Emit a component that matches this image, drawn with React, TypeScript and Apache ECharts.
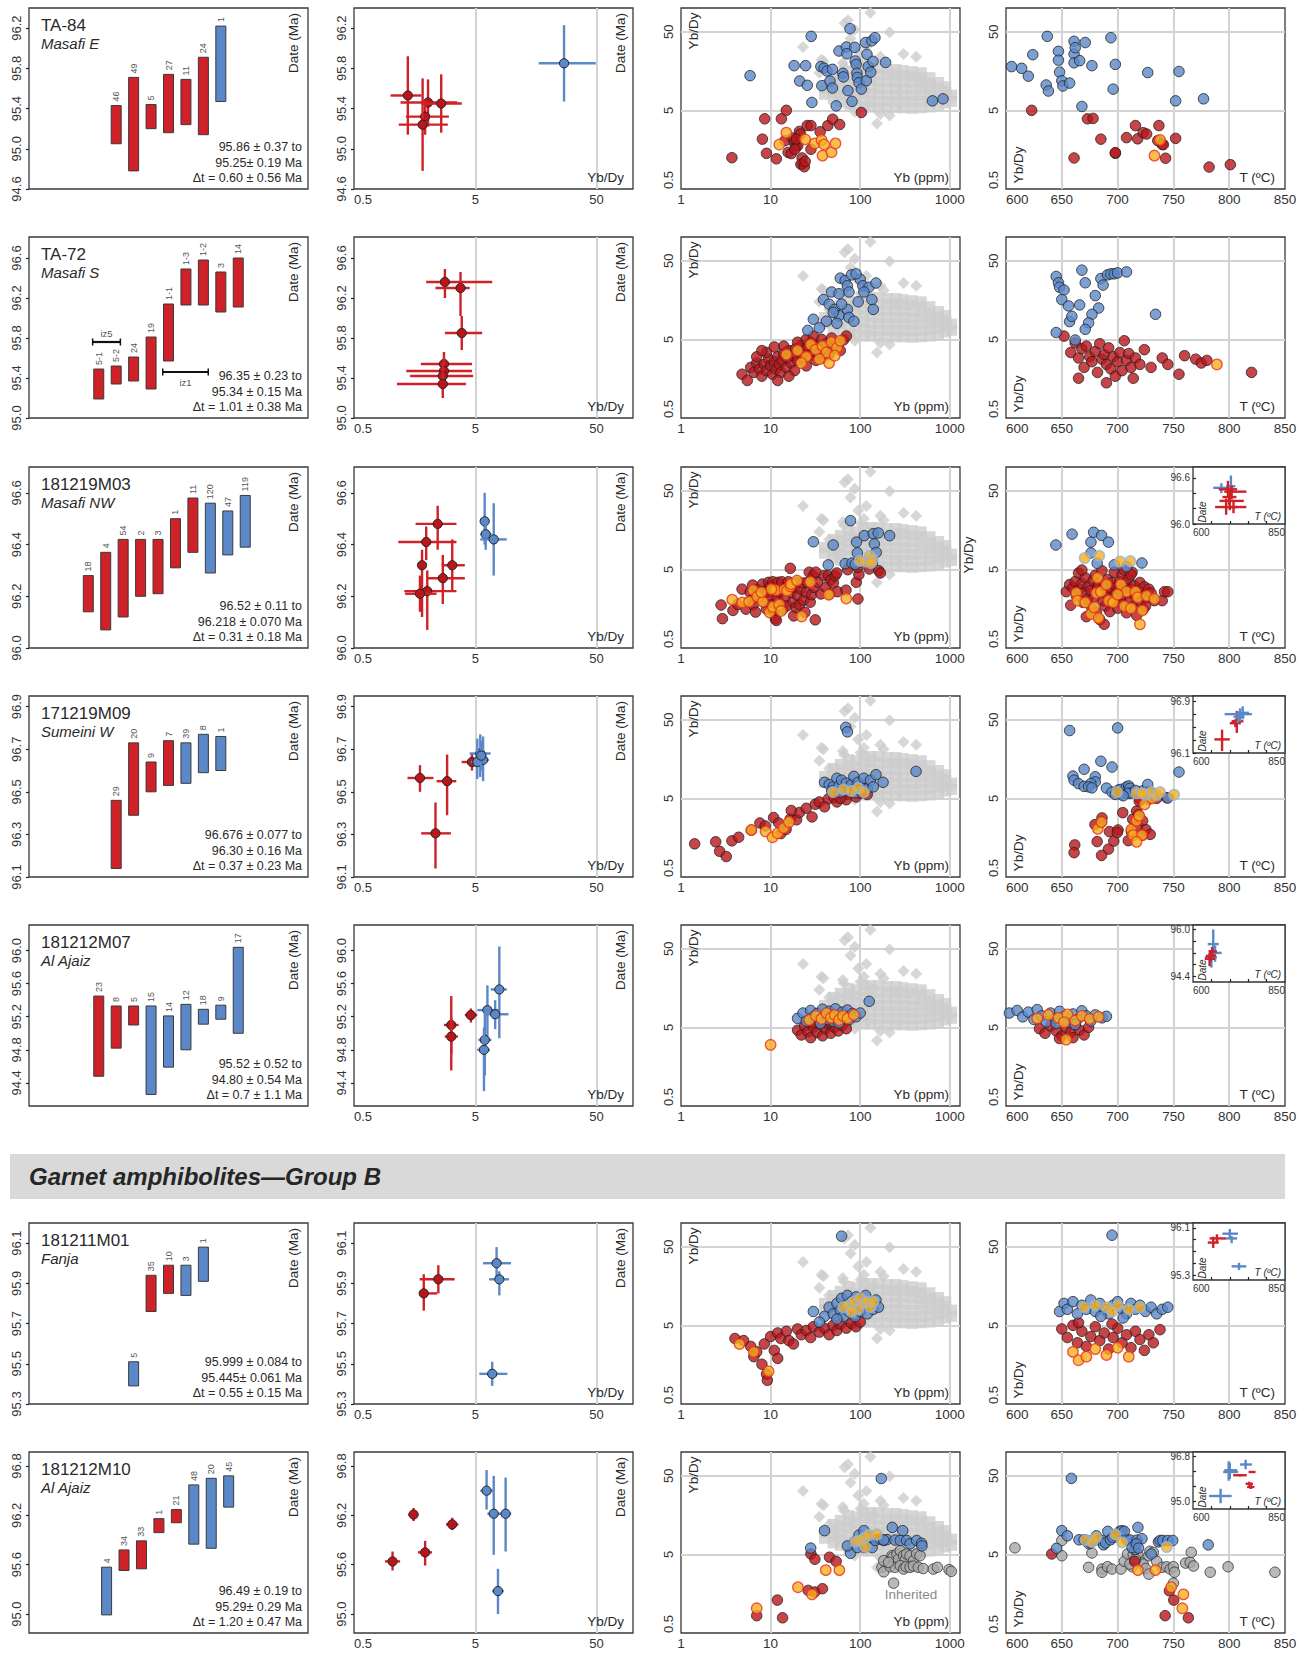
import React, { useEffect, useRef } from "react";
import * as echarts from "echarts";

const FONT = '"Liberation Sans", Arial, Helvetica, sans-serif';
const lg = (v: number) => Math.log10(v);

// ---------------- background reference field (col 3) ----------------
const bgSquares = [
  [40, 8], [40, 9.5],
  [50, 7], [50, 8.5], [50, 10], [50, 12],
  [60, 6.5], [60, 8], [60, 9.5], [60, 11.5], [60, 13.5],
  [75, 6], [75, 7.5], [75, 9], [75, 11], [75, 13], [75, 15.5],
  [90, 5.8], [90, 7], [90, 8.5], [90, 10.5], [90, 12.5], [90, 15],
  [110, 5.5], [110, 6.8], [110, 8.3], [110, 10], [110, 12], [110, 14.5], [110, 17],
  [130, 5.5], [130, 6.5], [130, 8], [130, 9.8], [130, 12], [130, 14.5], [130, 17],
  [160, 5.4], [160, 6.5], [160, 8], [160, 9.5], [160, 11.5], [160, 14], [160, 17],
  [200, 5.4], [200, 6.5], [200, 7.8], [200, 9.5], [200, 11.5], [200, 14], [200, 16.5],
  [250, 5.4], [250, 6.5], [250, 7.8], [250, 9.5], [250, 11.5], [250, 14], [250, 16.5],
  [300, 5.4], [300, 6.5], [300, 7.8], [300, 9.5], [300, 11.5], [300, 14], [300, 16],
  [380, 5.3], [380, 6.4], [380, 7.7], [380, 9.3], [380, 11.2], [380, 13.5], [380, 15.5],
  [480, 5.4], [480, 6.5], [480, 7.8], [480, 9.3], [480, 11], [480, 13], [480, 15],
  [600, 5.5], [600, 6.6], [600, 7.9], [600, 9.3], [600, 11], [600, 13],
  [750, 5.8], [750, 6.9], [750, 8.2], [750, 9.6], [750, 11.3],
  [900, 6.2], [900, 7.3], [900, 8.6], [900, 10],
  [1050, 6.5], [1050, 7.8],
];
const bgDiamonds = [
  [73, 70], [67, 64], [130, 87], [87, 53], [213, 49], [78, 41], [23, 32], [117, 32], [37, 22], [39, 21],
  [35, 15], [110, 22], [168, 24], [305, 26], [422, 24], [66, 18], [64, 20], [101, 19], [183, 21], [56, 7.5],
  [78, 5.6], [87, 4.8], [168, 4.5], [154, 3.4], [213, 4.3], [45, 12], [50, 9], [95, 28], [140, 16], [250, 14],
];

// ---------------- Row 1: TA-84 ----------------
const ta84Bars = [[95.05, 95.43, "46", "r"], [94.78, 95.71, "49", "r"], [95.2, 95.44, "5", "r"], [95.16, 95.74, "27", "r"], [95.24, 95.69, "11", "r"], [95.14, 95.91, "24", "r"], [95.47, 96.22, "1", "b"]];
const ta84Cross = [[1.39, 1.0, 1.8, 95.53, 95.14, 95.92, "r"], [2.04, 1.21, 3.55, 95.46, 95.22, 95.69, "r"], [2.62, 1.8, 3.87, 95.45, 95.16, 95.74, "r"], [1.93, 1.34, 3.03, 95.32, 95.14, 95.48, "r"], [1.84, 1.17, 2.97, 95.24, 94.78, 95.7, "r"], [27.0, 16.7, 49.3, 95.85, 95.47, 96.23, "b"]];
const ta84YbBlue = [[5.9, 13.8], [28.4, 43.6], [18.3, 18.5], [24.6, 18.5], [21.1, 11.8], [25.7, 10.4], [28.9, 6.3], [36.4, 18], [39.6, 17.2], [42.7, 15.8], [37.3, 10.3], [46, 11.8], [49, 9.6], [49, 16.6], [54, 5.7], [58, 28.4], [64, 14.8], [65, 13.3], [70, 31.9], [71, 26.2], [73, 8.9], [77, 54.6], [81, 6.5], [87, 31.6], [88, 21.2], [90, 19.2], [92, 14.9], [93, 13.1], [97, 11.2], [103, 9.3], [115, 36.4], [117, 11.9], [119, 25.8], [123, 18], [131, 15.3], [139, 21], [135, 38.3], [146, 41.9], [192, 20.3], [640, 6.6], [840, 7.0]];
const ta84YbRed = [[3.7, 1.25], [8.1, 2.15], [8.6, 3.9], [9.0, 1.42], [11.6, 1.21], [13.2, 3.9], [15, 5.0], [14.5, 2.06], [15.7, 1.46], [17, 1.41], [17.5, 2.22], [18.4, 1.95], [19.2, 1.78], [20.1, 1.78], [21, 2.7], [21.5, 2.5], [22.5, 1.24], [22.8, 1.04], [21.8, 1.03], [23.8, 0.96], [24.3, 1.12], [25.7, 3.2], [28.2, 3.2], [28.2, 1.6], [35.7, 2.67], [43.5, 3.2], [49.3, 3.86], [59, 3.3], [103, 4.7], [19.4, 2.15], [18.7, 1.6]];
const ta84YbOrange = [[12.5, 1.84], [15, 2.6], [24.3, 2.14], [31.1, 1.9], [37, 2.1], [39.6, 1.84], [38, 1.33], [47.8, 1.47], [53, 1.9]];
const ta84TBlue = [[605, 18], [614, 17.1], [620, 13.6], [624, 25.5], [636, 10.5], [637, 43.6], [638, 8.8], [647, 28.1], [647, 21.7], [648, 15.3], [650, 11.9], [651, 10.2], [657, 11.1], [661, 37.7], [661, 26], [662, 31.3], [661, 20.1], [666, 21.4], [668, 5.6], [671, 36.4], [677, 18.5], [694, 41.9], [696, 9.3], [698, 19.2], [727, 15.1], [755, 15.6], [752, 6.6], [777, 7.0]];
const ta84TRed = [[623, 5.0], [673, 3.9], [678, 3.95], [685, 2.15], [661, 1.24], [698, 1.42], [698, 1.45], [708, 2.25], [716, 3.2], [718, 2.17], [723, 2.6], [726, 2.5], [737, 3.2], [736, 2.06], [740, 1.84], [741, 1.83], [743, 1.23], [752, 2.2], [782, 0.95], [801, 1.02]];
const ta84TOrange = [[738, 2.1], [733, 1.33]];

// ---------------- Row 2: TA-72 ----------------
const ta72Bars = [[95.19, 95.49, "5-1", "r"], [95.34, 95.52, "5-2", "r"], [95.37, 95.61, "24", "r"], [95.29, 95.81, "19", "r"], [95.57, 96.14, "1-1", "r"], [96.13, 96.49, "1-3", "r"], [96.13, 96.58, "1-2", "r"], [96.06, 96.46, "3", "r"], [96.11, 96.6, "14", "r"]];
const ta72Brackets = [[3.65, 5.24, 95.76, "iz5", "above"], [7.67, 10.28, 95.46, "iz1", "below"]];
const ta72Cross = [[2.81, 1.97, 6.9, 96.36, 96.2, 96.49, "r"], [3.78, 2.35, 4.5, 96.3, 96.02, 96.46, "r"], [3.87, 2.81, 5.7, 95.85, 95.68, 96.02, "r"], [2.76, 1.78, 4.7, 95.54, 95.42, 95.66, "r"], [2.76, 1.35, 4.7, 95.47, 95.33, 95.6, "r"], [2.7, 1.45, 4.8, 95.42, 95.28, 95.55, "r"], [2.7, 1.13, 4.2, 95.34, 95.2, 95.47, "r"]];
const ta72YbBlue = [[60, 30], [68, 28], [80, 33], [100, 29], [72, 24], [107, 24], [125, 23], [48, 20], [58, 19], [75, 20], [39, 16], [45, 14], [52, 12], [58, 10], [72, 12], [30, 9], [42, 8.5], [55, 8], [75, 9.5], [95, 15], [150, 26], [135, 16], [35, 7], [85, 8.5], [62, 14], [50, 11], [26, 6.5], [110, 20], [90, 34], [140, 12]];
const ta72YbRed = [[4.8, 1.8], [5.5, 1.5], [6, 2.2], [6.5, 1.9], [7, 2.5], [7.5, 2.1], [8, 1.7], [8.5, 2.4], [9, 2.0], [9.5, 2.8], [10, 2.3], [10.5, 1.8], [11, 2.6], [11.5, 2.1], [12, 3.0], [12.5, 2.4], [13, 1.9], [13.5, 2.7], [14, 3.3], [15, 2.2], [15.5, 2.9], [16, 3.6], [17, 2.5], [18, 3.1], [18.5, 2.0], [19, 3.8], [20, 2.7], [21, 3.4], [22, 4.2], [23, 2.9], [24, 3.6], [25, 2.3], [26, 4.0], [27, 3.1], [28, 4.6], [30, 3.5], [32, 2.7], [33, 4.2], [35, 3.3], [37, 5.0], [38, 2.9], [40, 3.8], [42, 4.4], [45, 3.2], [48, 5.2], [50, 3.9], [55, 4.5], [60, 3.6], [65, 4.9], [70, 5.5], [20, 4.6], [14, 4.1], [9, 3.4], [7, 3.0], [12, 1.5], [16, 1.7], [25, 5.0], [30, 5.5], [11, 4.0], [8, 3.6]];
const ta72YbOrange = [[15, 3.2], [20, 3.6], [25, 3.0], [28, 4.3], [32, 3.7], [38, 4.1], [42, 3.4], [48, 4.6], [55, 3.9], [60, 4.8], [22, 2.5], [35, 2.8], [45, 2.5], [52, 3.1]];
const ta72TBlue = [[645, 31.5], [647, 26.2], [648, 23], [652, 21.2], [650, 16], [656, 13.3], [645, 6.1], [668, 37.9], [671, 26.2], [680, 18], [685, 29.6], [687, 24.5], [691, 33], [694, 34], [697, 34], [683, 12.5], [677, 10.4], [674, 8.1], [671, 6.7], [657, 8.4], [659, 9.8], [666, 13.7], [662, 4.9], [734, 10.4], [700, 35], [708, 36]];
const ta72TRed = [[652, 5.5], [658, 3.4], [662, 4.5], [665, 2.9], [668, 3.8], [670, 2.2], [672, 4.1], [675, 3.0], [677, 2.6], [680, 3.5], [682, 1.9], [684, 4.4], [686, 2.8], [688, 3.2], [690, 2.4], [692, 3.9], [694, 2.1], [696, 3.0], [698, 1.7], [700, 2.6], [702, 3.4], [704, 2.0], [706, 4.8], [708, 2.7], [710, 3.3], [712, 2.2], [714, 1.6], [716, 2.9], [720, 2.4], [724, 3.7], [730, 2.2], [740, 2.9], [745, 2.4], [755, 1.8], [760, 3.1], [770, 2.8], [775, 2.5], [780, 2.7], [820, 1.9], [665, 1.6], [690, 1.4]];
const ta72TOrange = [[789, 2.4]];

// ---------------- Row 3: 181219M03 ----------------
const m03Bars = [[96.14, 96.28, "18", "r"], [96.07, 96.37, "4", "r"], [96.12, 96.42, "54", "r"], [96.2, 96.42, "2", "r"], [96.21, 96.42, "3", "r"], [96.31, 96.5, "1", "r"], [96.37, 96.58, "11", "r"], [96.29, 96.56, "120", "b"], [96.36, 96.53, "47", "b"], [96.39, 96.59, "119", "b"]];
const m03Cross = [[2.45, 1.61, 3.5, 96.48, 96.38, 96.55, "r"], [1.97, 1.16, 3.5, 96.41, 96.34, 96.47, "r"], [1.82, 1.7, 1.95, 96.32, 96.12, 96.38, "r"], [2.01, 1.3, 3.5, 96.22, 96.07, 96.3, "r"], [1.75, 1.32, 2.4, 96.21, 96.14, 96.28, "r"], [2.7, 2.04, 4.1, 96.27, 96.17, 96.36, "r"], [3.23, 2.64, 4.1, 96.32, 96.22, 96.42, "r"], [5.98, 5.6, 6.4, 96.49, 96.4, 96.6, "b"], [6.1, 5.5, 6.8, 96.44, 96.38, 96.5, "b"], [7.1, 5.5, 9.1, 96.42, 96.28, 96.56, "b"]];
const m03YbBlue = [[30, 11.2], [50, 10.2], [78, 20.8], [111, 13.4], [91, 11.1], [140, 14.2], [159, 14.5], [213, 13.4], [144, 10.5], [151, 8.2], [93, 8.1], [44, 5.7], [68, 5.9], [81, 6.0], [101, 6.25], [127, 6.1], [137, 6.0], [88, 5.8]];
const m03YbBlueOr = [[99, 6.4], [115, 6.3], [128, 7.4], [138, 6.7], [132, 6.0]];
const m03YbRed = [[2.8, 1.76], [2.9, 1.18], [3.8, 1.5], [4.3, 1.79], [4.8, 2.8], [5.3, 1.56], [5.9, 2.55], [6.1, 2.03], [6.3, 3.15], [6.4, 1.77], [6.8, 1.43], [7.2, 2.77], [7.6, 2.29], [8.1, 3.25], [8.3, 2.6], [8.4, 1.91], [9.0, 1.56], [9.3, 2.55], [9.5, 3.42], [10, 3.04], [10.2, 2.32], [10.3, 1.77], [10.6, 3.48], [10.9, 1.42], [11.1, 2.8], [11.3, 1.17], [11.6, 1.12], [11.9, 2.13], [12.1, 3.42], [12.6, 2.55], [12.9, 1.81], [13.3, 3.48], [13.7, 1.56], [14.3, 2.13], [14.9, 2.95], [15.3, 1.72], [15.8, 3.48], [16.6, 5.15], [16.9, 2.55], [17.7, 1.91], [18.1, 1.28], [18.4, 2.95], [19.2, 1.64], [19.7, 3.42], [20.1, 2.32], [21, 1.77], [21.8, 2.8], [22.8, 3.35], [23.4, 2.03], [24.2, 1.42], [25, 2.55], [25.9, 3.42], [27, 4.6], [27.7, 1.91], [28.7, 2.38], [29.9, 4.15], [30.7, 2.95], [31.5, 1.14], [32, 4.6], [33.4, 3.42], [36.4, 2.43], [39.6, 4.15], [41.3, 2.95], [43.9, 4.15], [45.4, 2.43], [47, 3.66], [50.2, 3.35], [52.5, 4.15], [54.8, 4.5], [55.6, 2.6], [69.4, 2.72], [72.5, 4.95], [90.5, 3.42], [94.4, 2.1], [96.8, 4.28], [126, 5.05], [161, 4.8], [168, 4.5], [94, 5.3]];
const m03YbOrange = [[3.73, 2.06], [4.82, 1.89], [5.75, 1.94], [6.4, 2.72], [7.1, 2.25], [8.2, 1.94], [9.75, 1.42], [10.6, 1.66], [11.5, 2.72], [12.5, 1.79], [13.1, 1.48], [14.3, 2.77], [15.3, 2.68], [16.6, 3.04], [16.9, 3.25], [19.7, 3.6], [27.7, 3.45], [44.6, 2.38], [70, 2.13], [22.2, 1.26], [10.2, 2.8], [7.9, 2.55]];
const m03TBlue = [[644.7, 10.2], [659.2, 14.0], [676.1, 11.1], [678.5, 14.8], [685.6, 13.5], [691.8, 11.1], [676.1, 8.07], [681.7, 5.96], [721.8, 6.02], [708, 5.4], [697, 5.7]];
const m03TBlueOr = [[670.5, 6.97], [683.5, 7.45], [702.2, 6.3], [711.4, 6.35]];
const m03TRed = [[654, 2.6], [657, 3.2], [658, 1.75], [660, 2.9], [662, 3.5], [663, 2.3], [665, 4.5], [666, 2.8], [668, 3.3], [669, 1.9], [670, 2.5], [671, 3.9], [672, 1.25], [673, 2.1], [674, 3.0], [676, 2.7], [677, 1.6], [678, 3.6], [679, 2.2], [680, 4.2], [681, 1.4], [682, 2.9], [683, 3.3], [684, 1.15], [685, 2.5], [686, 4.8], [687, 2.0], [688, 3.1], [689, 1.7], [690, 2.6], [691, 3.7], [692, 2.2], [693, 1.45], [694, 2.9], [695, 3.4], [696, 1.9], [697, 4.6], [698, 2.4], [699, 3.0], [700, 1.6], [701, 2.7], [702, 3.5], [703, 2.1], [704, 4.3], [705, 1.8], [706, 2.9], [707, 3.3], [708, 1.4], [709, 2.5], [710, 3.8], [711, 2.0], [712, 2.8], [713, 4.6], [714, 1.7], [715, 3.1], [716, 2.3], [717, 1.3], [718, 2.7], [720, 3.4], [721, 1.9], [722, 2.5], [723, 1.55], [724, 3.0], [726, 2.2], [728, 2.8], [730, 2.5], [733, 2.0], [740, 2.0], [742, 2.6], [745, 2.6], [668, 4.9], [706, 4.9], [712, 4.3], [688, 1.0], [725, 1.7]];
const m03TOrange = [[663, 2.5], [664, 2.0], [671, 1.9], [676, 1.35], [679, 1.65], [681, 2.5], [682, 3.9], [683, 1.2], [685, 2.6], [692, 2.0], [696, 1.9], [703, 3.2], [706, 1.7], [708, 2.6], [712, 1.6], [716, 2.6], [718, 2.2], [720, 1.0], [722, 1.5], [726, 2.3], [733, 2.1], [690, 3.2], [700, 2.4]];
const m03Inset = [[677, 655, 700, 96.47, 96.4, 96.53, "b"], [703, 690, 715, 96.49, 96.35, 96.63, "b"], [695, 670, 720, 96.45, 96.35, 96.56, "r"], [705, 685, 745, 96.42, 96.32, 96.5, "r"], [700, 672, 738, 96.3, 96.18, 96.4, "r"], [690, 660, 720, 96.22, 96.12, 96.33, "r"], [710, 690, 745, 96.22, 96.14, 96.3, "r"], [698, 680, 718, 96.35, 96.25, 96.45, "r"]];

// ---------------- Row 4: 171219M09 ----------------
const m09Bars = [[96.14, 96.46, "29", "r"], [96.39, 96.73, "20", "r"], [96.5, 96.64, "9", "r"], [96.53, 96.74, "7", "r"], [96.54, 96.73, "39", "b"], [96.59, 96.77, "8", "b"], [96.6, 96.76, "1", "b"]];
const m09Cross = [[1.75, 1.38, 2.26, 96.565, 96.5, 96.625, "r"], [2.93, 2.4, 3.49, 96.55, 96.39, 96.675, "r"], [2.35, 1.79, 3.15, 96.305, 96.14, 96.45, "r"], [4.7, 3.86, 5.5, 96.64, 96.6, 96.68, "r"], [5.5, 4.5, 6.7, 96.68, 96.57, 96.77, "b"], [5.8, 5.0, 6.5, 96.65, 96.55, 96.76, "b"], [5.2, 4.6, 6.0, 96.64, 96.56, 96.75, "b"], [5.6, 5.0, 6.2, 96.67, 96.6, 96.74, "b"]];
const m09YbBlue = [[69, 40], [72, 35], [40, 8], [45, 7.5], [50, 7], [55, 9], [58, 7.2], [62, 8.5], [65, 6.5], [70, 7.8], [75, 6.2], [80, 7.5], [85, 9.5], [90, 6.8], [95, 8], [105, 7], [110, 9], [120, 6.6], [130, 8.5], [150, 10], [180, 8], [48, 6.2], [60, 6], [88, 5.9], [100, 6.3], [140, 7], [420, 11]];
const m09YbBlueOr = [[50, 6.0], [65, 6.5], [80, 6.2], [95, 6.8], [110, 6.0]];
const m09YbRed = [[1.42, 1.32], [2.44, 1.4], [2.7, 1.06], [3.2, 0.91], [3.7, 1.44], [4.4, 1.6], [6.1, 1.97], [7.6, 2.43], [8.7, 2.23], [10.8, 2.85], [12.3, 2.43], [13, 1.78], [14.9, 2.02], [16.6, 2.74], [19.5, 2.67], [21, 3.3], [25, 3.74], [29, 2.9], [31.6, 4.2], [35, 4.5], [44, 4.9], [51, 5.1], [62, 5.8], [73, 5.6], [86, 6.1], [107, 6.7], [40, 3.9], [55, 4.5], [70, 4.8], [90, 5.2], [120, 5.6], [60, 5.0], [100, 5.8], [17, 3.5]];
const m09YbOrange = [[6.1, 1.98], [8.8, 1.9], [10.5, 1.6], [12, 1.8], [14, 2.1], [16, 2.5]];
const m09TBlue = [[657, 36.4], [700, 39.3], [685, 14.8], [695, 12.5], [670, 11.7], [660, 9.6], [661, 8.5], [680, 9.4], [680, 8.1], [665, 7.7], [670, 7.1], [676, 7.7], [674, 7.0], [677, 6.8], [690, 6.75], [701, 6.4], [703, 6.5], [708, 7.0], [710, 7.2], [711, 6.7], [712, 5.8], [709, 5.8], [722, 6.2], [727, 7.5], [728, 6.0], [731, 5.9], [745, 5.05], [755, 10.8], [695, 6.0], [698, 5.6], [703, 5.65], [716, 6.3], [705, 5.4]];
const m09TBlueOr = [[699.6, 6.0], [725, 5.56], [730, 6.0], [735, 5.5], [738, 6.0], [750.6, 5.56], [717, 5.8], [722, 5.8]];
const m09TRed = [[661.6, 1.28], [661, 1.02], [679.7, 2.32], [681.7, 1.41], [686, 2.82], [685.6, 2.5], [692.7, 1.89], [691.8, 1.13], [685.6, 0.94], [696.6, 1.43], [700.4, 1.98], [699.8, 1.84], [704.6, 3.29], [709.6, 1.45], [712.3, 1.89], [713.5, 2.71], [717, 3.45], [718.8, 3.1], [718.2, 2.23], [722.4, 2.6], [722.4, 1.7], [725.4, 2.0], [729.2, 1.74], [720.3, 4.85], [727.7, 4.85], [735, 5.0], [744, 5.1], [719.4, 4.6]];
const m09TOrange = [[682.3, 2.05], [685.6, 2.5], [712.3, 2.0], [713.8, 1.7], [717, 2.6], [719.4, 3.0], [721.8, 1.7], [717, 1.4], [724.2, 4.2], [730.7, 5.0]];
const m09Inset = [[679, 658, 700, 96.31, 96.13, 96.46, "r"], [719, 705, 737, 96.59, 96.41, 96.75, "r"], [715, 700, 730, 96.56, 96.5, 96.62, "r"], [728, 686, 760, 96.7, 96.59, 96.79, "b"], [735, 720, 752, 96.72, 96.62, 96.82, "b"], [722, 710, 740, 96.66, 96.56, 96.74, "b"]];

// ---------------- Row 5: 181212M07 ----------------
const m07Bars = [[94.48, 95.45, "23", "r"], [94.82, 95.33, "8", "r"], [95.1, 95.33, "5", "r"], [94.26, 95.33, "15", "b"], [94.59, 95.21, "14", "b"], [94.8, 95.35, "12", "b"], [95.11, 95.29, "18", "b"], [95.17, 95.34, "9", "b"], [95.0, 96.04, "17", "b"]];
const m07Cross = [[3.17, 2.76, 3.64, 95.1, 94.75, 95.45, "r"], [3.17, 2.8, 3.6, 94.96, 94.55, 95.19, "r"], [4.6, 4.1, 5.2, 95.22, 95.13, 95.3, "r"], [7.9, 6.7, 9.1, 95.53, 94.94, 96.05, "b"], [6.3, 5.2, 8.0, 95.28, 94.94, 95.58, "b"], [7.3, 5.9, 9.4, 95.23, 95.05, 95.4, "b"], [6.0, 5.3, 6.8, 94.92, 94.49, 95.26, "b"], [5.9, 5.2, 6.6, 94.8, 94.3, 95.07, "b"]];
const m07YbBlue = [[20, 6.5], [23, 7.6], [25, 6.0], [28, 8.2], [30, 6.8], [33, 7.5], [35, 6.2], [38, 8.5], [40, 7.0], [43, 6.3], [45, 8.0], [48, 7.2], [50, 6.0], [53, 8.6], [56, 7.0], [60, 6.4], [63, 7.8], [67, 6.8], [72, 8.3], [76, 6.3], [82, 7.5], [90, 6.8], [100, 7.6], [126, 10.7], [36, 5.6], [58, 5.7]];
const m07YbRed = [[20, 4.6], [22, 4.0], [24, 5.2], [26, 4.4], [28, 3.7], [30, 5.0], [33, 4.3], [36, 5.5], [38, 3.9], [41, 4.8], [44, 5.4], [47, 4.2], [52, 5.0], [57, 4.5], [63, 5.3], [70, 4.8], [30, 5.8], [45, 5.8]];
const m07YbOrange = [[10, 3.0], [27, 6.2], [32, 7.0], [37, 6.4], [42, 7.6], [47, 6.6], [52, 7.2], [58, 6.2], [64, 7.0], [72, 6.5], [85, 7.2]];
const m07TBlue = [[603, 7.6], [610, 8.2], [615, 6.8], [620, 7.8], [625, 6.3], [628, 8.4], [632, 7.0], [636, 5.9], [640, 7.6], [644, 6.5], [648, 8.0], [652, 6.9], [656, 5.8], [660, 7.4], [664, 6.3], [668, 8.1], [672, 7.0], [676, 6.0], [680, 7.2], [686, 6.6], [690, 6.9], [645, 5.6], [662, 5.4]];
const m07TRed = [[630, 4.8], [635, 4.2], [640, 5.2], [645, 4.5], [650, 3.9], [654, 4.9], [658, 4.3], [662, 5.4], [666, 4.6], [670, 4.0], [674, 5.0], [648, 3.6], [660, 3.7]];
const m07TOrange = [[628, 6.5], [638, 7.2], [647, 6.6], [655, 7.3], [662, 6.1], [668, 7.0], [675, 6.4], [683, 6.8], [652, 5.8], [654, 3.5]];
const m07Inset = [[655, 640, 670, 95.5, 95.0, 96.0, "b"], [660, 645, 678, 95.2, 94.9, 95.45, "b"], [650, 632, 665, 95.05, 94.7, 95.3, "b"], [648, 635, 662, 95.1, 94.9, 95.3, "r"], [652, 642, 665, 95.25, 95.1, 95.4, "r"], [645, 632, 660, 95.0, 94.75, 95.2, "r"]];

// ---------------- Row 6: 181211M01 ----------------
const m01Bars = [[95.39, 95.51, "5", "b"], [95.76, 95.94, "35", "r"], [95.85, 95.99, "10", "r"], [95.84, 95.99, "3", "b"], [95.91, 96.08, "1", "b"]];
const m01Cross = [[1.88, 1.74, 2.43, 95.85, 95.764, 95.945, "r"], [2.48, 1.74, 3.38, 95.92, 95.85, 95.99, "r"], [7.5, 5.8, 9.85, 96.0, 95.92, 96.08, "b"], [7.9, 6.5, 9.5, 95.92, 95.84, 95.96, "b"], [6.9, 5.4, 9.2, 95.45, 95.39, 95.51, "b"]];
const m01YbBlue = [[30, 7.5], [40, 6.5], [45, 8.5], [50, 7], [55, 9.5], [60, 7.8], [62, 11], [65, 6.5], [70, 9], [72, 12], [75, 7.5], [80, 10], [85, 8.2], [88, 6.5], [90, 11.5], [95, 9], [100, 7.5], [105, 10.5], [110, 8.5], [115, 12], [120, 7], [130, 9.5], [140, 8], [150, 10.5], [160, 8.5], [62, 68], [55, 6], [35, 5.5]];
const m01YbBlueOr = [[65, 8.5], [75, 9], [85, 10], [95, 8], [100, 11], [110, 9.5], [120, 10], [130, 8.5], [80, 7.5], [140, 10]];
const m01YbRed = [[4, 3.4], [5, 3.2], [6, 2.7], [7, 2.3], [8, 1.6], [9, 1.2], [8.5, 2.9], [10, 3.6], [11, 2.4], [12, 4.0], [13, 3.4], [15, 4.2], [16, 3.2], [18, 2.9], [20, 4.5], [22, 3.8], [25, 4.3], [28, 3.5], [30, 4.8], [35, 4.1], [40, 4.6], [45, 3.8], [50, 5.0], [55, 4.3], [60, 5.2], [70, 4.6], [80, 5.3], [90, 4.8], [100, 5.5], [12, 1.9], [6.5, 2.0], [9.2, 1.0]];
const m01YbOrange = [[4.5, 2.9], [6.5, 2.3], [9.5, 1.3]];
const m01TBlue = [[648, 7.5], [652, 9.5], [655, 8], [660, 10], [664, 7], [668, 9], [672, 8], [676, 10.5], [680, 7.5], [684, 9.5], [688, 8], [692, 7], [696, 9], [700, 10], [704, 8], [708, 7], [712, 9.5], [716, 8], [720, 9], [725, 7.5], [730, 8.5], [735, 7], [740, 8], [745, 8.5], [695, 70], [705, 6.2], [685, 6.5]];
const m01TBlueOr = [[670, 8.5], [680, 9], [690, 8.5], [700, 9], [710, 8], [720, 8.5], [695, 7.5]];
const m01TRed = [[650, 4.5], [655, 3.5], [660, 5.0], [664, 3.0], [668, 4.2], [672, 2.7], [676, 3.6], [680, 4.8], [684, 3.2], [688, 4.0], [692, 2.5], [696, 3.5], [700, 4.6], [704, 3.0], [708, 3.8], [712, 2.6], [716, 4.2], [720, 3.3], [724, 2.4], [728, 3.8], [732, 3.0], [738, 4.4], [665, 5.4], [695, 5.2]];
const m01TOrange = [[660, 2.3], [665, 1.8], [672, 2.0], [680, 2.5], [690, 2.1], [700, 2.6], [710, 2.0]];
const m01Inset = [[655, 640, 670, 95.85, 95.76, 95.95, "r"], [665, 645, 690, 95.92, 95.85, 95.99, "r"], [700, 680, 722, 96.0, 95.92, 96.08, "b"], [705, 690, 720, 95.92, 95.84, 95.96, "b"], [725, 705, 745, 95.45, 95.39, 95.51, "b"]];

// ---------------- Row 7: 181212M10 ----------------
const m10Bars = [[94.99, 95.57, "4", "b"], [95.53, 95.78, "34", "r"], [95.55, 95.89, "33", "r"], [95.99, 96.16, "1", "r"], [96.11, 96.27, "21", "r"], [95.85, 96.57, "48", "b"], [95.8, 96.65, "20", "b"], [96.3, 96.68, "45", "b"]];
const m10Cross = [[1.04, 0.9, 1.2, 95.64, 95.53, 95.76, "r"], [1.55, 1.4, 1.7, 96.21, 96.13, 96.29, "r"], [1.93, 1.68, 2.2, 95.75, 95.59, 95.89, "r"], [3.23, 2.87, 3.63, 96.09, 96.02, 96.17, "r"], [6.2, 5.5, 7.0, 96.5, 96.27, 96.75, "b"], [7.1, 6.3, 8.0, 96.22, 95.72, 96.68, "b"], [8.9, 8.0, 9.9, 96.22, 95.76, 96.66, "b"], [7.7, 6.9, 8.6, 95.28, 95.0, 95.55, "b"]];
const m10YbBlue = [[172, 46], [40, 10], [28, 6.0], [228, 11], [298, 10], [78, 5.15], [72, 6.4], [87, 7.25], [97, 8.8], [103, 7.8], [110, 10], [119, 7.5], [130, 8.2], [136, 6.1], [148, 7.5], [168, 7.8], [183, 7.5], [199, 7.7], [245, 7.6], [280, 7.5], [330, 7.5], [360, 6.8], [427, 7.5], [485, 6.9], [489, 6.4], [110, 6.1], [93, 6.1], [183, 7.6]];
const m10YbBlueOr = [[88, 7.25], [98, 7.5], [112, 8.2], [125, 8.8], [153, 8.9], [114, 6.2]];
const m10YbRed = [[7.0, 0.83], [13.6, 0.78], [11.9, 1.31], [26.3, 1.74], [31.2, 1.66], [37.9, 1.83], [28.2, 5.05], [31.2, 4.33], [45.4, 4.6], [53.9, 4.07]];
const m10YbOrange = [[7.0, 1.03], [20.2, 1.91], [29, 1.55], [41.3, 3.15], [58.5, 3.15]];
const m10YbInh = [[226, 4.8], [232, 4.6], [257, 5.05], [267, 4.33], [280, 5.56], [305, 4.8], [318, 4.2], [330, 5.05], [360, 4.8], [393, 4.15], [427, 5.05], [465, 4.8], [175, 3.42], [183, 3.0], [217, 3.48], [245, 3.42], [280, 3.58], [305, 3.25], [325, 3.48], [360, 3.42], [393, 3.55], [445, 3.42], [505, 3.3], [654, 3.25], [727, 3.42], [980, 3.2], [1040, 3.04], [236, 2.15], [183, 4.15], [207, 3.95]];
const m10TBlue = [[658.6, 46.2], [650, 10], [655, 8.6], [645.3, 5.96], [665.4, 7.65], [669.9, 7.65], [672.8, 7.5], [674.3, 6.8], [675.8, 7.0], [680.9, 8.6], [683.8, 7.6], [686.2, 7.5], [687.4, 6.6], [689.2, 7.0], [691.2, 9.8], [693.6, 7.65], [695.7, 8.2], [698.1, 8.6], [701.9, 9.8], [704, 10], [706.1, 9.8], [708.5, 7.6], [711.4, 7.6], [717.4, 7.6], [718.2, 11], [715.3, 5.75], [712.9, 6.1], [721.8, 7.9], [730.1, 5.05], [736.6, 7.2], [738.1, 7.5], [740.5, 7.5], [745, 7.5], [749.4, 7.5], [781.2, 6.6], [716.8, 6.8], [718.8, 6.0]];
const m10TBlueOr = [[671.4, 7.6], [677.3, 7.2], [680.9, 8.2], [698.1, 8.9], [704, 7.1], [744, 6.2]];
const m10TRed = [[641, 5.05], [715.3, 4.07], [746.4, 1.72], [750.3, 1.31], [742.6, 0.83], [763.4, 0.78]];
const m10TOrange = [[718.2, 3.15], [734, 3.15], [748, 1.91], [759, 1.55], [758, 1.03]];
const m10TInh = [[608, 6.05], [650, 7.5], [650, 4.8], [674, 3.42], [677, 5.2], [686, 3.25], [686, 2.96], [691, 3.48], [695, 3.25], [703, 3.25], [706, 4.07], [709, 5.05], [713, 3.48], [714, 4.95], [718, 5.1], [721, 3.95], [723, 3.76], [725, 3.3], [728, 2.8], [728, 4.8], [729, 5.46], [732, 5.3], [735, 4.07], [740, 3.42], [744, 3.48], [747, 3.25], [750, 3.48], [751, 2.96], [750, 2.15], [761, 3.87], [765, 3.95], [768, 3.55], [766, 5.3], [783, 2.96], [799, 3.48], [841, 2.96], [711, 3.76], [716, 4.33]];
const m10Inset = [[675, 644, 705, 95.22, 94.93, 95.51, "b"], [697, 682, 723, 96.18, 95.83, 96.61, "b"], [700, 685, 720, 96.25, 95.9, 96.55, "b"], [743, 728, 760, 96.48, 96.29, 96.67, "b"], [728, 709, 746, 96.05, 96.0, 96.1, "r"], [760, 751, 770, 96.18, 96.14, 96.22, "r"], [753, 743, 763, 95.71, 95.63, 95.79, "r"], [757, 747, 767, 95.58, 95.5, 95.66, "r"]];

// ---------------- row definitions ----------------
const ROWS: any[] = [
  { name: "TA-84", loc: "Masafi E", stats: ["95.86 ± 0.37 to", "95.25± 0.19 Ma", "Δt = 0.60 ± 0.56 Ma"], dMin: 94.6, dMax: 96.4, dTicks: [94.6, 95.0, 95.4, 95.8, 96.2], barStart: 5, bars: ta84Bars, cross: ta84Cross,
    yb: { red: ta84YbRed, orange: ta84YbOrange, blue: ta84YbBlue }, t: { red: ta84TRed, orange: ta84TOrange, blue: ta84TBlue } },
  { name: "TA-72", loc: "Masafi S", stats: ["96.35 ± 0.23 to", "95.34 ± 0.15 Ma", "Δt = 1.01 ± 0.38 Ma"], dMin: 95.0, dMax: 96.81, dTicks: [95.0, 95.4, 95.8, 96.2, 96.6], barStart: 4, bars: ta72Bars, cross: ta72Cross, brackets: ta72Brackets,
    yb: { red: ta72YbRed, orange: ta72YbOrange, blue: ta72YbBlue }, t: { red: ta72TRed, orange: ta72TOrange, blue: ta72TBlue } },
  { name: "181219M03", loc: "Masafi NW", stats: ["96.52 ± 0.11 to", "96.218 ± 0.070 Ma", "Δt = 0.31 ± 0.18 Ma"], dMin: 96.0, dMax: 96.7, dTicks: [96.0, 96.2, 96.4, 96.6], barStart: 3.4, bars: m03Bars, cross: m03Cross,
    yb: { red: m03YbRed, orange: m03YbOrange, blue: m03YbBlue, blueOr: m03YbBlueOr }, t: { red: m03TRed, orange: m03TOrange, blue: m03TBlue, blueOr: m03TBlueOr },
    inset: { min: 96.0, max: 96.74, labels: [96.0, 96.6], ticks: [96.0, 96.2, 96.4, 96.6], data: m03Inset }, extraYbDy: true },
  { name: "171219M09", loc: "Sumeini W", stats: ["96.676 ± 0.077 to", "96.30 ± 0.16 Ma", "Δt = 0.37 ± 0.23 Ma"], dMin: 96.1, dMax: 96.95, dTicks: [96.1, 96.3, 96.5, 96.7, 96.9], barStart: 5, bars: m09Bars, cross: m09Cross,
    yb: { red: m09YbRed, orange: m09YbOrange, blue: m09YbBlue, blueOr: m09YbBlueOr }, t: { red: m09TRed, orange: m09TOrange, blue: m09TBlue, blueOr: m09TBlueOr },
    inset: { min: 96.1, max: 96.98, labels: [96.1, 96.9], ticks: [96.1, 96.3, 96.5, 96.7, 96.9], data: m09Inset } },
  { name: "181212M07", loc: "Al Ajaiz", stats: ["95.52 ± 0.52 to", "94.80 ± 0.54 Ma", "Δt = 0.7 ± 1.1 Ma"], dMin: 94.12, dMax: 96.31, dTicks: [94.4, 94.8, 95.2, 95.6, 96.0], barStart: 4, bars: m07Bars, cross: m07Cross,
    yb: { red: m07YbRed, orange: m07YbOrange, blue: m07YbBlue }, t: { red: m07TRed, orange: m07TOrange, blue: m07TBlue },
    inset: { min: 94.21, max: 96.15, labels: [94.4, 96.0], ticks: [94.4, 94.8, 95.2, 95.6, 96.0], data: m07Inset } },
  { name: "181211M01", loc: "Fanja", stats: ["95.999 ± 0.084 to", "95.445± 0.061 Ma", "Δt = 0.55 ± 0.15 Ma"], dMin: 95.3, dMax: 96.2, dTicks: [95.3, 95.5, 95.7, 95.9, 96.1], barStart: 6, bars: m01Bars, cross: m01Cross,
    yb: { red: m01YbRed, orange: m01YbOrange, blue: m01YbBlue, blueOr: m01YbBlueOr }, t: { red: m01TRed, orange: m01TOrange, blue: m01TBlue, blueOr: m01TBlueOr },
    inset: { min: 95.22, max: 96.18, labels: [95.3, 96.1], ticks: [95.3, 95.5, 95.7, 95.9, 96.1], data: m01Inset } },
  { name: "181212M10", loc: "Al Ajaiz", stats: ["96.49 ± 0.19 to", "95.29± 0.29 Ma", "Δt = 1.20 ± 0.47 Ma"], dMin: 94.77, dMax: 96.97, dTicks: [95.0, 95.6, 96.2, 96.8], barStart: 4.45, bars: m10Bars, cross: m10Cross,
    yb: { red: m10YbRed, orange: m10YbOrange, blue: m10YbBlue, blueOr: m10YbBlueOr, inh: m10YbInh }, t: { red: m10TRed, orange: m10TOrange, blue: m10TBlue, blueOr: m10TBlueOr, inh: m10TInh },
    inset: { min: 94.7, max: 96.98, labels: [95.0, 96.8], ticks: [95.0, 95.6, 96.2, 96.8], data: m10Inset }, inherited: true },
];

// ---------------- layout & style ----------------
const ROW_TOP = [8, 237, 467, 696, 925, 1223, 1452];
const COL_L = [29, 354, 681, 1006];
const PW = 279;
const PH = 181;
const INSET_L = 1193;
const INSET_W = 92;
const INSET_H = 57;

const BAR_RED = "#cf2128";
const BAR_BLUE = "#5b88c8";
const PT_RED = "#b9161c";
const PT_BLUE = "#5b88c9";
const ORANGE = "#f7af20";
const GRID_LINE = "#d3d3d3";
const TXT = "#2a2a2a";

const STYLES: any = {
  red: { symbol: "circle", size: 10.5, itemStyle: { color: PT_RED, borderColor: "#222", borderWidth: 1 }, z: 4 },
  blue: { symbol: "circle", size: 10.5, itemStyle: { color: PT_BLUE, borderColor: "#222", borderWidth: 1 }, z: 5 },
  orange: { symbol: "circle", size: 10.5, itemStyle: { color: ORANGE, borderColor: "#e8321e", borderWidth: 1.3 }, z: 6 },
  blueOr: { symbol: "circle", size: 10.5, itemStyle: { color: ORANGE, borderColor: "#8fb4e4", borderWidth: 1.5 }, z: 7 },
  inh: { symbol: "circle", size: 10.5, itemStyle: { color: "#a8a8a8", borderColor: "#333", borderWidth: 1 }, z: 3 },
};

const fmtLog = (v: number) => {
  const n = Math.pow(10, v);
  return n < 1 ? n.toFixed(1) : String(Math.round(n));
};

const A = (align: string, va: string) => ({ align, verticalAlign: va, textAlign: align, textVerticalAlign: va });

function txt(x: number, y: number, text: string, o: any = {}) {
  return {
    type: "text",
    x,
    y,
    rotation: o.rot ? Math.PI / 2 : 0,
    z: o.z || 50,
    silent: true,
    style: {
      text,
      fill: o.color || TXT,
      fontSize: o.size || 13.5,
      fontFamily: FONT,
      fontStyle: o.italic ? "italic" : "normal",
      fontWeight: o.bold ? "bold" : "normal",
      ...A(o.align || (o.rot ? "center" : "left"), o.va || "middle"),
    },
  };
}

function buildOption() {
  const grid: any[] = [];
  const xAxis: any[] = [];
  const yAxis: any[] = [];
  const series: any[] = [];
  const elements: any[] = [];
  const bracketLabels: any[] = [];

  const addGrid = (g: any, xa: any, ya: any) => {
    const i = grid.length;
    grid.push({ outerBoundsMode: "none", containLabel: false, show: true, borderColor: "#3a3a3a", borderWidth: 1.3, backgroundColor: "transparent", ...g });
    xAxis.push({ gridIndex: i, position: "bottom", ...xa });
    yAxis.push({ gridIndex: i, position: "left", ...ya });
    return i;
  };

  const noLine = { show: false, onZero: false };
  const labelBase = { color: "#333", fontFamily: FONT, fontSize: 13 };

  const dateAxis = (r: any) => ({
    type: "value", min: r.dMin, max: r.dMax,
    axisLine: noLine,
    axisTick: { show: true, inside: false, length: 3, customValues: r.dTicks, lineStyle: { color: "#222", width: 1.2 } },
    axisLabel: { ...labelBase, customValues: r.dTicks, rotate: 90, margin: 6, formatter: (v: number) => v.toFixed(1) },
    splitLine: { show: false },
  });

  const logYAxis = () => ({
    type: "value", min: lg(0.5), max: 2,
    axisLine: noLine,
    axisTick: { show: false, customValues: [lg(5), lg(50)] },
    axisLabel: { ...labelBase, customValues: [lg(0.5), lg(5), lg(50)], rotate: 90, margin: 6, formatter: fmtLog, alignMinLabel: "left" },
    splitLine: { show: true, lineStyle: { color: GRID_LINE, width: 2 } },
  });

  const scatter = (gi: number, data: number[][], kind: string, logX: boolean) => {
    const s = STYLES[kind];
    series.push({
      type: "scatter", xAxisIndex: gi, yAxisIndex: gi, silent: true, z: s.z,
      symbol: s.symbol, symbolSize: s.size, itemStyle: s.itemStyle,
      data: data.map((d) => [logX ? lg(d[0]) : d[0], lg(d[1])]),
    });
  };

  const crossSeries = (gi: number, data: any[], logX: boolean, withDot: boolean, lw: number, z: number) => {
    const tx = (v: number) => (logX ? lg(v) : v);
    series.push({
      type: "custom", xAxisIndex: gi, yAxisIndex: gi, z, clip: false, silent: true,
      data: data.map((d) => [tx(d[0]), tx(d[1]), tx(d[2]), d[3], d[4], d[5]]),
      encode: { x: [0, 1, 2], y: [3, 4, 5] },
      renderItem: (params: any, api: any) => {
        const g = data[params.dataIndex][6];
        const col = g === "r" ? BAR_RED : BAR_BLUE;
        const c = api.coord([api.value(0), api.value(3)]);
        const xl = api.coord([api.value(1), api.value(3)]);
        const xh = api.coord([api.value(2), api.value(3)]);
        const yl = api.coord([api.value(0), api.value(4)]);
        const yh = api.coord([api.value(0), api.value(5)]);
        const children: any[] = [
          { type: "line", shape: { x1: xl[0], y1: c[1], x2: xh[0], y2: c[1] }, style: { stroke: col, lineWidth: lw } },
          { type: "line", shape: { x1: c[0], y1: yl[1], x2: c[0], y2: yh[1] }, style: { stroke: col, lineWidth: lw } },
        ];
        if (withDot) {
          children.push({ type: "circle", shape: { cx: c[0], cy: c[1], r: 4.6 }, style: { fill: g === "r" ? PT_RED : PT_BLUE, stroke: "#222", lineWidth: 1 } });
        }
        return { type: "group", children };
      },
    });
  };

  ROWS.forEach((r: any, ri: number) => {
    const T = ROW_TOP[ri];

    // ---- col 1: date bars ----
    const g1 = addGrid({ left: COL_L[0], top: T, width: PW, height: PH },
      { type: "value", min: 0, max: 16, show: false, axisLine: noLine },
      dateAxis(r));
    const bars = r.bars;
    series.push({
      type: "custom", xAxisIndex: g1, yAxisIndex: g1, clip: false, silent: true, z: 4,
      data: bars.map((b: any, i: number) => [r.barStart + i, b[0], b[1]]),
      encode: { x: 0, y: [1, 2] },
      renderItem: (params: any, api: any) => {
        const b = bars[params.dataIndex];
        const top = api.coord([api.value(0), api.value(2)]);
        const bot = api.coord([api.value(0), api.value(1)]);
        const w = 10;
        return {
          type: "group",
          children: [
            { type: "rect", shape: { x: top[0] - w / 2, y: top[1], width: w, height: bot[1] - top[1] }, style: { fill: b[3] === "r" ? BAR_RED : BAR_BLUE, stroke: "#3a3a3a", lineWidth: 1 } },
            { type: "text", x: top[0], y: top[1] - 4, rotation: Math.PI / 2, style: { text: b[2], fill: "#555", fontSize: 9, fontFamily: FONT, ...A("left", "middle") } },
          ],
        };
      },
    });
    if (r.brackets) {
      const br = r.brackets;
      series.push({
        type: "custom", xAxisIndex: g1, yAxisIndex: g1, clip: false, silent: true, z: 5,
        data: br.map((b: any) => [b[0], b[1], b[2]]),
        encode: { x: [0, 1], y: 2 },
        renderItem: (params: any, api: any) => {
          const p1 = api.coord([api.value(0), api.value(2)]);
          const p2 = api.coord([api.value(1), api.value(2)]);
          return {
            type: "group",
            children: [
              { type: "line", shape: { x1: p1[0], y1: p1[1], x2: p2[0], y2: p2[1] }, style: { stroke: "#111", lineWidth: 2.2 } },
              { type: "line", shape: { x1: p1[0], y1: p1[1] - 3.5, x2: p1[0], y2: p1[1] + 3.5 }, style: { stroke: "#111", lineWidth: 1.5 } },
              { type: "line", shape: { x1: p2[0], y1: p2[1] - 3.5, x2: p2[0], y2: p2[1] + 3.5 }, style: { stroke: "#111", lineWidth: 1.5 } },
            ],
          };
        },
      });
      br.forEach((b: any) => bracketLabels.push({ gi: g1, x: (b[0] + b[1]) / 2, y: b[2], text: b[3], above: b[4] === "above" }));
    }

    // ---- col 2: Yb/Dy vs date ----
    const g2 = addGrid({ left: COL_L[1], top: T, width: PW, height: PH },
      {
        type: "value", min: lg(0.5), max: 2,
        axisLine: noLine,
        axisTick: { show: false, customValues: [lg(5), lg(50)] },
        axisLabel: { ...labelBase, customValues: [lg(0.5), lg(5), lg(50)], margin: 4, formatter: fmtLog, alignMinLabel: "left" },
        splitLine: { show: true, lineStyle: { color: GRID_LINE, width: 2 } },
      },
      dateAxis(r));
    crossSeries(g2, r.cross, true, true, 2.4, 4);

    // ---- col 3: Yb vs Yb/Dy ----
    const g3 = addGrid({ left: COL_L[2], top: T, width: PW, height: PH },
      {
        type: "value", min: 0, max: lg(1300),
        axisLine: noLine,
        axisTick: { show: false, customValues: [1, 2, 3] },
        axisLabel: { ...labelBase, fontSize: 13.5, customValues: [0, 1, 2, 3], margin: 3, formatter: fmtLog },
        splitLine: { show: true, lineStyle: { color: GRID_LINE, width: 2 } },
      },
      logYAxis());
    series.push({ type: "scatter", xAxisIndex: g3, yAxisIndex: g3, silent: true, z: 2, symbol: "rect", symbolSize: 11, itemStyle: { color: "#cdcdcd" }, data: bgSquares.map((d) => [lg(d[0]), lg(d[1])]) });
    series.push({ type: "scatter", xAxisIndex: g3, yAxisIndex: g3, silent: true, z: 2, symbol: "diamond", symbolSize: 12, itemStyle: { color: "#cdcdcd" }, data: bgDiamonds.map((d) => [lg(d[0]), lg(d[1])]) });
    ["inh", "red", "blue", "orange", "blueOr"].forEach((k) => {
      if (r.yb[k]) scatter(g3, r.yb[k], k, true);
    });

    // ---- col 4: T vs Yb/Dy ----
    const g4 = addGrid({ left: COL_L[3], top: T, width: PW, height: PH },
      {
        type: "value", min: 600, max: 850, interval: 50,
        axisLine: noLine,
        axisTick: { show: false, customValues: [650, 700, 750, 800] },
        axisLabel: { ...labelBase, fontSize: 13.5, customValues: [600, 650, 700, 750, 800, 850], margin: 3, alignMinLabel: "left" },
        splitLine: { show: true, lineStyle: { color: GRID_LINE, width: 2 } },
      },
      logYAxis());
    ["inh", "red", "blue", "orange", "blueOr"].forEach((k) => {
      if (r.t[k]) scatter(g4, r.t[k], k, false);
    });

    // ---- inset ----
    if (r.inset) {
      const ins = r.inset;
      const gi = addGrid({ left: INSET_L, top: T, width: INSET_W, height: INSET_H, z: 10, backgroundColor: "#ffffff", borderColor: "#333", borderWidth: 1.3 },
        {
          type: "value", min: 600, max: 850, z: 11,
          axisLine: noLine,
          axisTick: { show: true, inside: true, length: 3, customValues: [650, 700, 750, 800], lineStyle: { color: "#222", width: 1.2 } },
          axisLabel: { color: "#333", fontFamily: FONT, fontSize: 10, customValues: [600, 850], margin: 3, alignMinLabel: "left", alignMaxLabel: "right" },
          splitLine: { show: false },
        },
        {
          type: "value", min: ins.min, max: ins.max, z: 11,
          axisLine: noLine,
          axisTick: { show: true, inside: true, length: 3, customValues: ins.ticks, lineStyle: { color: "#222", width: 1.2 } },
          axisLabel: { color: "#333", fontFamily: FONT, fontSize: 10, customValues: ins.labels, margin: 3, formatter: (v: number) => v.toFixed(1) },
          splitLine: { show: false },
        });
      crossSeries(gi, ins.data, false, false, 2.4, 12);
      elements.push(txt(INSET_L + 9, T + 45, "Date", { size: 10, italic: true, rot: true, z: 60 }));
      elements.push(txt(INSET_L + 88, T + 49, "T (ºC)", { size: 10, italic: true, align: "right", z: 60 }));
    }

    // ---- texts ----
    elements.push(txt(COL_L[0] + 12, T + 17, r.name, { size: 17 }));
    elements.push(txt(COL_L[0] + 12, T + 35, r.loc, { size: 15, italic: true }));
    r.stats.forEach((s: string, k: number) => elements.push(txt(COL_L[0] + 273, T + 139 + k * 15.5, s, { size: 12.5, align: "right" })));
    elements.push(txt(COL_L[0] + 264, T + 35, "Date (Ma)", { size: 13.5, rot: true }));
    elements.push(txt(COL_L[1] + 266, T + 35, "Date (Ma)", { size: 13.5, rot: true }));
    elements.push(txt(COL_L[1] + 270, T + 169, "Yb/Dy", { size: 13.5, align: "right" }));
    elements.push(txt(COL_L[2] + 12, T + 23, "Yb/Dy", { size: 13.5, rot: true }));
    elements.push(txt(COL_L[2] + 268, T + 169, "Yb (ppm)", { size: 13.5, align: "right" }));
    elements.push(txt(COL_L[3] + 12, T + 157, "Yb/Dy", { size: 13.5, rot: true }));
    elements.push(txt(COL_L[3] + 269, T + 169, "T (ºC)", { size: 13.5, align: "right" }));
    if (r.extraYbDy) elements.push(txt(968, T + 88, "Yb/Dy", { size: 13.5, rot: true }));
    if (r.inherited) elements.push(txt(911, T + 142, "Inherited", { size: 13.5, color: "#8a8a8a", align: "center" }));
  });

  // banner
  elements.push({ type: "rect", shape: { x: 10, y: 1154, width: 1275, height: 45 }, style: { fill: "#d9d9d9" }, z: 1, silent: true });
  elements.push(txt(29, 1176, "Garnet amphibolites—Group B", { size: 24, bold: true, italic: true, color: "#262626" }));

  return {
    option: {
      animation: false,
      backgroundColor: "#ffffff",
      textStyle: { fontFamily: FONT },
      grid,
      xAxis,
      yAxis,
      series,
      graphic: { elements },
    },
    elements,
    bracketLabels,
  };
}

export default function App() {
  const ref = useRef<HTMLDivElement>(null);
  useEffect(() => {
    if (!ref.current) return;
    const chart = echarts.init(ref.current, null, { renderer: "svg" });
    const built = buildOption();
    chart.setOption(built.option as any);
    // bracket labels placed through the axes' own scales
    const extra = built.bracketLabels.map((l: any) => {
      const p: any = chart.convertToPixel({ gridIndex: l.gi } as any, [l.x, l.y]);
      return txt(p[0], l.above ? p[1] - 9 : p[1] + 10, l.text, { size: 9.5, color: "#555", align: "center" });
    });
    if (extra.length) {
      chart.setOption({ graphic: { elements: [...built.elements, ...extra] } } as any);
    }
    return () => chart.dispose();
  }, []);
  return <div ref={ref} style={{ position: "absolute", left: 0, top: 0, width: 1308, height: 1653, background: "#fff" }} />;
}
